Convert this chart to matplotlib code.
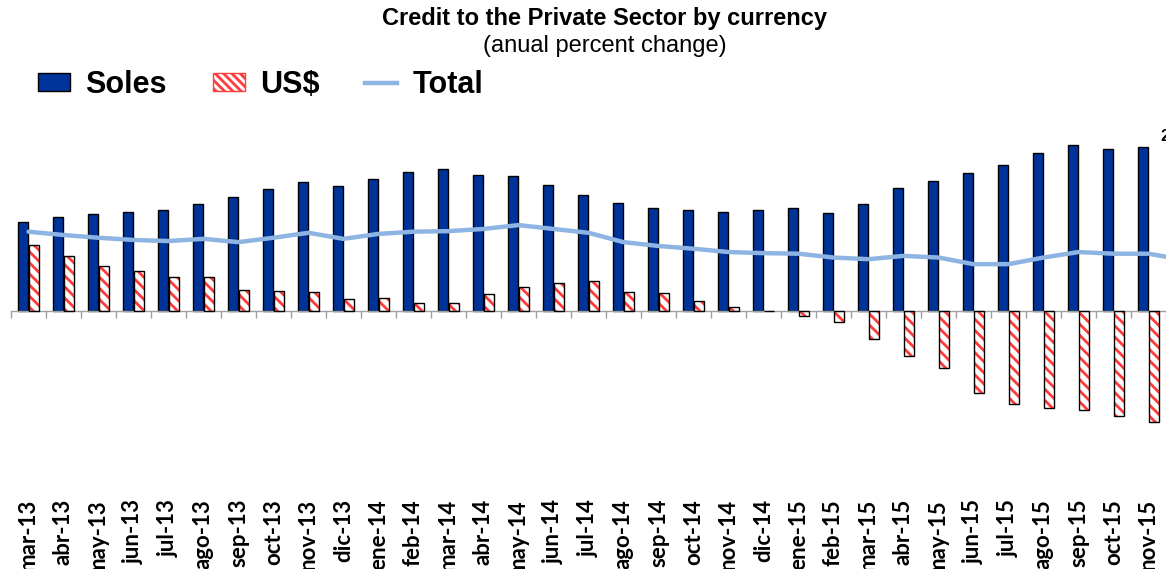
import numpy as np
import matplotlib
matplotlib.use("Agg")
import matplotlib.pyplot as plt
from matplotlib.patches import Patch
from matplotlib.lines import Line2D

# months (dic-15 only carries the Total line, it sits past the right edge)
months = ["mar-13", "abr-13", "may-13", "jun-13", "jul-13", "ago-13", "sep-13", "oct-13",
          "nov-13", "dic-13", "ene-14", "feb-14", "mar-14", "abr-14", "may-14", "jun-14",
          "jul-14", "ago-14", "sep-14", "oct-14", "nov-14", "dic-14", "ene-15", "feb-15",
          "mar-15", "abr-15", "may-15", "jun-15", "jul-15", "ago-15", "sep-15", "oct-15",
          "nov-15", "dic-15"]

soles = [16.3, 17.2, 17.7, 18.1, 18.5, 19.5, 20.8, 22.3, 23.5, 22.8, 24.1, 25.4, 25.9,
         24.8, 24.6, 23.0, 21.2, 19.7, 18.8, 18.5, 18.1, 18.5, 18.8, 17.9, 19.5, 22.5,
         23.7, 25.2, 26.6, 28.8, 30.3, 29.5, 29.9]

usd = [12.1, 10.1, 8.3, 7.4, 6.3, 6.3, 3.9, 3.7, 3.5, 2.3, 2.5, 1.5, 1.5, 3.2, 4.5,
       5.2, 5.5, 3.5, 3.4, 1.9, 0.8, 0.1, -0.8, -1.9, -5.0, -8.1, -10.3, -14.8, -16.8,
       -17.5, -17.9, -19.0, -20.1]

total = [14.5, 13.9, 13.4, 13.0, 12.8, 13.2, 12.6, 13.4, 14.3, 13.2, 14.1, 14.5, 14.6,
         15.0, 15.7, 15.0, 14.3, 12.6, 11.9, 11.4, 10.8, 10.6, 10.5, 9.8, 9.5, 10.1,
         9.8, 8.6, 8.6, 9.8, 10.8, 10.5, 10.5, 9.4]

blue = "#003399"
red = "#ff3b3b"
light = "#8db4e2"

plt.rcParams["hatch.linewidth"] = 2.0

W, H = 1166, 569
fig = plt.figure(figsize=(W / 100, H / 100), dpi=100)
# axes: x from px 11 to 1166, y from px 100 to 450
ax = fig.add_axes([11 / W, (H - 450) / H, (1166 - 11) / W, 350 / H])

n = len(soles)
x = np.arange(n)
bw = 0.29
ax.bar(x - 0.15, soles, bw, color=blue, edgecolor="black", linewidth=1, zorder=2)
# hatched US$ bars: white face with red stripes, then black outline
ax.bar(x + 0.15, usd, bw, color="white", edgecolor=red, hatch="\\\\\\", linewidth=0, zorder=2)
ax.bar(x + 0.15, usd, bw, fill=False, edgecolor="black", linewidth=1, zorder=3)

xt = np.arange(len(total))
ax.plot(xt, total, color=light, linewidth=3.2, solid_joinstyle="round",
        solid_capstyle="round", zorder=4)

ax.set_xlim(-0.5, n - 0.5)
ax.set_ylim(-25.2, 38.45)

for s in ["top", "right", "left"]:
    ax.spines[s].set_visible(False)
ax.spines["bottom"].set_position(("data", 0))
ax.spines["bottom"].set_color("#a0a0a0")
ax.spines["bottom"].set_linewidth(1)
ax.set_yticks([])

ax.set_xticks(x)
ax.set_xticklabels(months[:n], rotation=90, fontfamily="Lato", fontweight="bold",
                   fontsize=16, va="top", ha="center")
ax.tick_params(axis="x", which="major", length=0, pad=135)
ax.set_xticks(np.arange(n + 1) - 0.5, minor=True)
ax.tick_params(axis="x", which="minor", length=5, color="#a0a0a0", width=1)

fig.text(605 / W, 1 - 18 / H, "Credit to the Private Sector by currency",
         ha="center", va="center", fontsize=17, fontweight="bold", family="Liberation Sans")
fig.text(605 / W, 1 - 46 / H, "(anual percent change)",
         ha="center", va="center", fontsize=17, family="Liberation Sans")

handles = [Patch(facecolor=blue, edgecolor="black", label="Soles"),
           Patch(facecolor="white", edgecolor=red, hatch="\\\\\\\\", label="US$"),
           Line2D([0], [0], color=light, linewidth=3.2, label="Total")]
leg = fig.legend(handles=handles, loc="center left", bbox_to_anchor=(38 / W, 1 - 85 / H),
                 ncol=3, frameon=False, prop={"family": "Liberation Sans", "weight": "bold", "size": 22},
                 handlelength=1.05, handleheight=0.5, handletextpad=0.5, columnspacing=1.5,
                 borderpad=0, borderaxespad=0)

# cropped label at the top right edge
fig.text(1160 / W, 1 - 136 / H, "2", ha="left", va="center", fontsize=12,
         fontweight="bold", family="Liberation Sans")

fig.savefig("out.png", dpi=100)
